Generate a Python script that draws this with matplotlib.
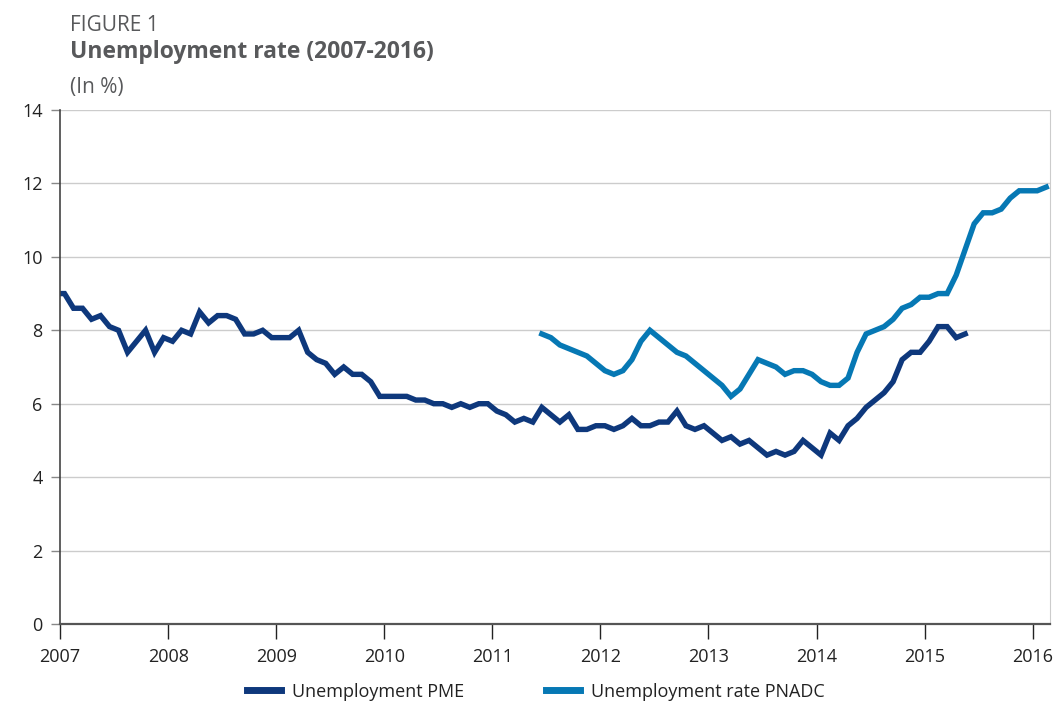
import numpy as np
import matplotlib
matplotlib.use("Agg")
import matplotlib.pyplot as plt

# Unemployment rate (%), monthly
# PME: Dec 2006 .. May 2015 (first value sits just left of the axis and gets clipped)
pme_start = -1
pme = [9.0,
       9.0, 8.6, 8.6, 8.3, 8.4, 8.1, 8.0, 7.4, 7.7, 8.0, 7.4, 7.8,   # 2007
       7.7, 8.0, 7.9, 8.5, 8.2, 8.4, 8.4, 8.3, 7.9, 7.9, 8.0, 7.8,   # 2008
       7.8, 7.8, 8.0, 7.4, 7.2, 7.1, 6.8, 7.0, 6.8, 6.8, 6.6, 6.2,   # 2009
       6.2, 6.2, 6.2, 6.1, 6.1, 6.0, 6.0, 5.9, 6.0, 5.9, 6.0, 6.0,   # 2010
       5.8, 5.7, 5.5, 5.6, 5.5, 5.9, 5.7, 5.5, 5.7, 5.3, 5.3, 5.4,   # 2011
       5.4, 5.3, 5.4, 5.6, 5.4, 5.4, 5.5, 5.5, 5.8, 5.4, 5.3, 5.4,   # 2012
       5.2, 5.0, 5.1, 4.9, 5.0, 4.8, 4.6, 4.7, 4.6, 4.7, 5.0, 4.8,   # 2013
       4.6, 5.2, 5.0, 5.4, 5.6, 5.9, 6.1, 6.3, 6.6, 7.2, 7.4, 7.4,   # 2014
       7.7, 8.1, 8.1, 7.8, 7.9]                                       # 2015
# PNADC: Jun 2011 .. Feb 2016
pnadc_start = 53
pnadc = [7.9, 7.8, 7.6, 7.5, 7.4, 7.3, 7.1,                          # 2011
         6.9, 6.8, 6.9, 7.2, 7.7, 8.0, 7.8, 7.6, 7.4, 7.3, 7.1, 6.9,  # 2012
         6.7, 6.5, 6.2, 6.4, 6.8, 7.2, 7.1, 7.0, 6.8, 6.9, 6.9, 6.8,  # 2013
         6.6, 6.5, 6.5, 6.7, 7.4, 7.9, 8.0, 8.1, 8.3, 8.6, 8.7, 8.9,  # 2014
         8.9, 9.0, 9.0, 9.5, 10.2, 10.9, 11.2, 11.2, 11.3, 11.6, 11.8, 11.8,  # 2015
         11.8, 11.9]                                                   # 2016

years = list(range(2007, 2017))
yticks = [0, 2, 4, 6, 8, 10, 12, 14]

c_pme = "#0e387c"
c_pnadc = "#0678b4"
c_text = "#58595b"

plt.rcParams["font.family"] = ["Open Sans", "DejaVu Sans"]


def month_pos(start, n):
    # points sit mid-month
    return 2007 + (np.arange(start, start + n) + 0.5) / 12


fig = plt.figure(figsize=(10.59, 7.03), dpi=100)
ax = fig.add_axes([60 / 1059, 1 - 624 / 703, 990 / 1059, 514 / 703])

ax.plot(month_pos(pme_start, len(pme)), pme, color=c_pme, lw=3.9,
        solid_joinstyle="miter", label="Unemployment PME")
ax.plot(month_pos(pnadc_start, len(pnadc)), pnadc, color=c_pnadc, lw=3.9,
        solid_joinstyle="miter", label="Unemployment rate PNADC")

ax.set_xlim(2007, 2016.16)
ax.set_ylim(0, 14)
ax.set_xticks(years)
ax.set_xticklabels([str(y) for y in years])
ax.set_yticks(yticks)
ax.set_yticklabels([str(v) for v in yticks])

ax.grid(axis="y", color="#cccccc", lw=1)
ax.set_axisbelow(True)
ax.spines["top"].set_visible(False)
ax.spines["right"].set_color("#cccccc")
ax.spines["left"].set_color("#444444")
ax.spines["bottom"].set_color("#555555")
ax.spines["bottom"].set_linewidth(1.6)
ax.spines["left"].set_linewidth(1.2)
ax.spines["bottom"].set_zorder(3)

ax.tick_params(axis="x", direction="out", length=11, width=1, color="#222222",
               pad=6, labelsize=13, labelcolor="#222222")
ax.tick_params(axis="y", direction="out", length=6.5, width=1, color="#888888",
               pad=6, labelsize=13, labelcolor="#222222")

fig.text(70 / 1059, 1 - 31 / 703, "FIGURE 1", fontsize=15, color=c_text,
         va="baseline")
fig.text(70 / 1059, 1 - 58 / 703, "Unemployment rate (2007-2016)", fontsize=16.5,
         color=c_text, va="baseline", fontweight="bold")
fig.text(70 / 1059, 1 - 93 / 703, "(In %)", fontsize=15, color=c_text, va="baseline")

leg = fig.legend(loc="lower center", bbox_to_anchor=(0.506, -0.02), ncol=2,
                 frameon=False, fontsize=13, handlelength=1.9, handletextpad=0.6,
                 columnspacing=4.5)
for t in leg.get_texts():
    t.set_color("#222222")
for h in leg.legend_handles:
    h.set_linewidth(5)

fig.savefig("out.png", dpi=100)
